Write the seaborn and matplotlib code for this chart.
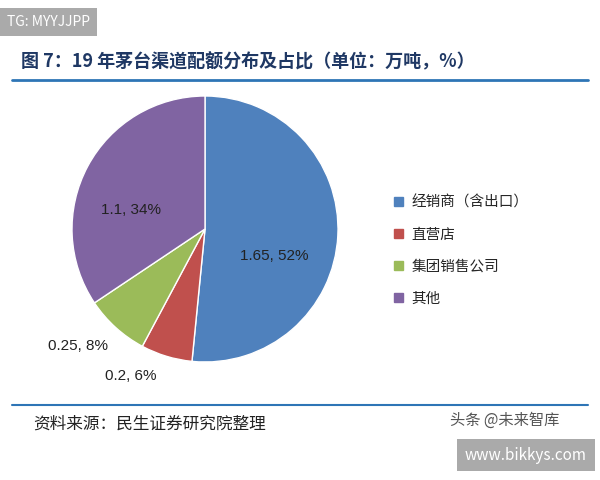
import matplotlib
matplotlib.use('Agg')
import matplotlib.pyplot as plt
import seaborn as sns

sns.set_theme(style='white')
plt.rcParams['font.family'] = ['Noto Sans CJK SC', 'DejaVu Sans']

labels = ['经销商（含出口）', '直营店', '集团销售公司', '其他']
values = [1.65, 0.2, 0.25, 1.1]
shares = [52, 6, 8, 34]
colors = ['#4F81BD', '#C0504D', '#9BBB59', '#8064A2']

fig = plt.figure(figsize=(6, 4.8), dpi=100)
fig.patch.set_facecolor('white')

# pie axes: center ~ (205, 229) px, radius ~133 px
R = 133
cx, cy = 205, 229
ax = fig.add_axes([(cx - R)/600, 1 - (cy + R)/480, 2*R/600, 2*R/480])
wedges, _ = ax.pie(values, colors=colors, startangle=90, counterclock=False,
                   wedgeprops=dict(edgecolor='white', linewidth=1))
ax.set_xlim(-1, 1)
ax.set_ylim(-1, 1)
ax.set_aspect('auto')

lab_font = ['Liberation Sans', 'DejaVu Sans']
ax.text(0.52, -0.2, f'{values[0]}, {shares[0]}%', ha='center', va='center', fontsize=11, color='#222222', family=lab_font)
ax.text(-0.56, 0.14, f'{values[3]}, {shares[3]}%', ha='center', va='center', fontsize=11, color='#222222', family=lab_font)
fig.text(0.08, 1 - 346/480, f'{values[2]}, {shares[2]}%', ha='left', va='center', fontsize=11, color='#222222', family=lab_font)
fig.text(0.175, 1 - 376/480, f'{values[1]}, {shares[1]}%', ha='left', va='center', fontsize=11, color='#222222', family=lab_font)

handles = [plt.Rectangle((0, 0), 1, 1, color=c) for c in colors]
fig.legend(handles, labels, loc='upper left', bbox_to_anchor=(0.635, 1 - 182/480),
           frameon=False, fontsize=10.5, handlelength=0.6, handleheight=0.6,
           labelspacing=1.25, handletextpad=0.6)

# title and lines
fig.text(0.035, 1 - 62/480, '图 7：19 年茅台渠道配额分布及占比（单位：万吨，%）',
         fontsize=13, fontweight='bold', color='#1F3864', va='center')
fig.add_artist(plt.Line2D([0.02, 0.98], [1 - 80/480] * 2, color='#2E75B6', lw=2))
fig.add_artist(plt.Line2D([0.02, 0.98], [1 - 405/480] * 2, color='#2E75B6', lw=1.5))
fig.text(0.055, 1 - 424/480, '资料来源：民生证券研究院整理', fontsize=12, color='#222222', va='center')

# watermarks
fig.text(0.012, 1 - 22/480, 'TG: MYYJJPP', fontsize=10, color='white', va='center',
         bbox=dict(facecolor='#AAAAAA', edgecolor='none', boxstyle='square,pad=0.5'))
fig.text(0.75, 1 - 420/480, '头条 @未来智库', fontsize=11, color='#555555', va='center')
fig.text(0.775, 1 - 455/480, 'www.bikkys.com', fontsize=11, color='white', va='center',
         bbox=dict(facecolor='#AAAAAA', edgecolor='none', boxstyle='square,pad=0.5'))

fig.savefig('out.png', dpi=100)
